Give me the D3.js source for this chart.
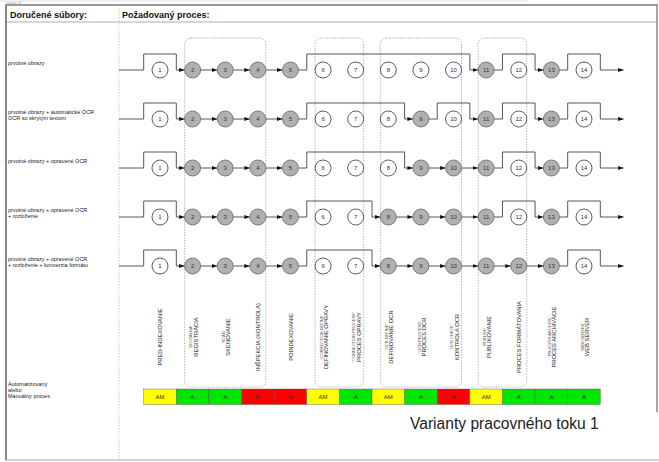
<!DOCTYPE html>
<html>
<head>
<meta charset="utf-8">
<script src="https://cdn.jsdelivr.net/npm/d3@7"></script>
<style>
  body { margin: 0; background: #fff; }
  svg { font-family: "Liberation Sans", Arial, sans-serif; display: block; }
</style>
</head>
<body>
<svg id="chart" width="659" height="462"></svg>
<script>
// process steps, left to right
var steps = [1, 2, 3, 4, 5, 6, 7, 8, 9, 10, 11, 12, 13, 14]
var stepNames = ['PRED-INDEXOVANIE', 'REGISTRÁCIA', 'SKENOVANIE', 'INŠPEKCIA (KONTROLA)', 'POINDEXOVANIE',
  'DEFINOVANIE OPRAVY', 'PROCES OPRAVY', 'DEFINOVANIE OCR', 'PROCES OCR', 'KONTROLA OCR',
  'PUBLIKOVANIE', 'PROCES FORMÁTOVANIA', 'PROCES ARCHIVÁCIE', 'WEB SERVER']
var stepNotes = ['', '"DIGITÁLNA"', '"SCAN"', '', '', '"CORRECTION DEFINE"', '"CORRECTION PROCESS"',
  '"OCR DEFINE"', '"OCR PROCESS"', '"OCR CHECK"', '"PUBLISH"', '', '"PROCESS ARCHIVE"', '"WEB SERVER"']
var stepModes = ['AM', 'A', 'A', 'M', 'M', 'AM', 'A', 'AM', 'A', 'M', 'AM', 'A', 'A', 'A']

// delivered file variants (rows) and the steps each one goes through
var rowLabels = [
  ['prvotné obrazy'],
  ['prvotné obrazy + automatické OCR', 'OCR so skrytým textom'],
  ['prvotné obrazy + opravené OCR'],
  ['prvotné obrazy + opravené OCR', '+ rozloženie'],
  ['prvotné obrazy + opravené OCR', '+ rozloženie + konverzia formátu']
]
var rowActive = [
  [2, 3, 4, 5, 11, 13],
  [2, 3, 4, 5, 9, 11, 13],
  [2, 3, 4, 5, 9, 10, 11, 13],
  [2, 3, 4, 5, 8, 9, 10, 11, 13],
  [2, 3, 4, 5, 8, 9, 10, 11, 12, 13]
]
// dashed groupings of steps (first, last)
var groups = [[2, 4], [6, 7], [8, 10], [11, 12]]

var modeColors = { AM: '#ffff00', A: '#00e600', M: '#ff0000' }

var svg = d3.select('#chart')
  , r = 8
  , lift = 16
  , xStart = 119

var x = d3.scaleLinear().domain([1, 14]).range([160, 584])
var y = d3.scalePoint().domain(d3.range(rowLabels.length)).range([70, 266])
var half = (x(2) - x(1)) / 2

svg.append('defs').append('marker')
  .attr('id', 'arr')
  .attr('markerUnits', 'userSpaceOnUse')
  .attr('markerWidth', 6).attr('markerHeight', 4)
  .attr('refX', 5.5).attr('refY', 2)
  .attr('orient', 'auto')
  .append('path').attr('d', 'M0,0 L5.5,2 L0,4 z').attr('fill', '#111')

// frame
var frame = svg.append('g').attr('fill', 'none')
frame.append('line').attr('x1', 0).attr('x2', 527).attr('y1', 1).attr('y2', 1).attr('stroke', '#ccc').attr('stroke-width', 0.6)
frame.append('line').attr('x1', 5).attr('x2', 658).attr('y1', 5).attr('y2', 5).attr('stroke', '#777').attr('stroke-width', 1.5)
frame.append('line').attr('x1', 6).attr('x2', 657).attr('y1', 22).attr('y2', 22).attr('stroke', '#999').attr('stroke-width', 0.8)
frame.append('line').attr('x1', 6).attr('x2', 6).attr('y1', 5).attr('y2', 460).attr('stroke', '#888').attr('stroke-width', 2)
frame.append('line').attr('x1', 657).attr('x2', 657).attr('y1', 5).attr('y2', 412).attr('stroke', '#888').attr('stroke-width', 1.5)
frame.append('line').attr('x1', 5).attr('x2', 659).attr('y1', 460).attr('y2', 460).attr('stroke', '#aaa').attr('stroke-width', 1)
frame.append('line').attr('x1', xStart).attr('x2', xStart).attr('y1', 5).attr('y2', 460)
  .attr('stroke', '#aaa').attr('stroke-width', 0.6).attr('stroke-dasharray', '1.5,1.5')

svg.append('text').attr('x', 6).attr('y', 3.5).attr('font-size', 3).attr('fill', '#999').text('varianty_wf')

svg.append('text').attr('x', 10).attr('y', 18).attr('font-size', 9).attr('font-weight', 'bold').attr('fill', '#111').text('Doručené súbory:')
svg.append('text').attr('x', 122).attr('y', 18).attr('font-size', 9).attr('font-weight', 'bold').attr('fill', '#111').text('Požadovaný proces:')

// dashed group boxes
svg.append('g').selectAll('rect').data(groups).enter().append('rect')
  .attr('x', function(g) { return x(g[0]) - r })
  .attr('width', function(g) { return x(g[1]) - x(g[0]) + 2 * r })
  .attr('y', 38).attr('height', 349)
  .attr('rx', 6).attr('ry', 6)
  .attr('fill', 'none').attr('stroke', '#999').attr('stroke-width', 0.7).attr('stroke-dasharray', '1.5,1.2')

// row labels
svg.append('g').selectAll('text').data(rowLabels).enter().append('text')
  .attr('font-size', 5.5).attr('fill', '#222')
  .each(function(lines, i) {
    d3.select(this).selectAll('tspan').data(lines).enter().append('tspan')
      .attr('x', 8)
      .attr('y', function(l, j) { return y(i) - 5 + j * 6.2 })
      .text(function(l) { return l })
  })

// flow lines: straight arrow to the next step, or a raised bridge over skipped steps
function flowPath(a, b, yy) {
  var x0 = a === 0 ? xStart : x(a) + r
    , x1 = b === 15 ? x(15) + 7 : x(b) - r
  if (b === a + 1) return 'M' + x0 + ',' + yy + 'H' + x1
  return 'M' + x0 + ',' + yy + 'H' + (x(a + 1) - half) + 'V' + (yy - lift) +
    'H' + (x(b) - half) + 'V' + yy + 'H' + x1
}

var flows = svg.append('g').attr('fill', 'none').attr('stroke', '#444').attr('stroke-width', 0.9)
rowActive.forEach(function(active, i) {
  var seq = [0].concat(active, [15])
  for (var k = 0; k < seq.length - 1; k++) {
    flows.append('path').attr('d', flowPath(seq[k], seq[k + 1], y(i))).attr('marker-end', 'url(#arr)')
  }
})

// nodes
rowActive.forEach(function(active, i) {
  var n = svg.append('g').selectAll('g').data(steps).enter().append('g')
    .attr('transform', function(s) { return 'translate(' + x(s) + ',' + y(i) + ')' })
  n.append('circle').attr('r', r)
    .attr('fill', function(s) { return active.indexOf(s) >= 0 ? '#b0b0b0' : '#fff' })
    .attr('stroke', function(s) { return active.indexOf(s) >= 0 ? '#666' : '#333' })
    .attr('stroke-width', 0.8)
  n.append('text').attr('text-anchor', 'middle').attr('dy', 2.1)
    .attr('font-size', 6).attr('fill', '#333')
    .text(function(s) { return s })
})

// rotated step names
var lab = svg.append('g').selectAll('g').data(steps).enter().append('g')
lab.append('text')
  .attr('transform', function(s, i) { return 'translate(' + (x(s) + (stepNotes[i] ? 5 : 2.2)) + ',337) rotate(-90)' })
  .attr('text-anchor', 'middle').attr('font-size', 5.8).attr('fill', '#222')
  .text(function(s, i) { return stepNames[i] })
lab.filter(function(s, i) { return stepNotes[i] }).append('text')
  .attr('transform', function(s) { return 'translate(' + (x(s) - 0.3) + ',337) rotate(-90)' })
  .attr('text-anchor', 'middle').attr('font-size', 4).attr('fill', '#555')
  .text(function(s) { return stepNotes[steps.indexOf(s)] })

// automated / manual bar
svg.append('text').attr('font-size', 5.5).attr('fill', '#222')
  .selectAll('tspan').data(['Automatizovaný', 'alebo', 'Manuálny proces']).enter().append('tspan')
  .attr('x', 8).attr('y', function(d, j) { return 386 + j * 6 })
  .text(function(d) { return d })

var cells = svg.append('g').selectAll('g').data(steps).enter().append('g')
cells.append('rect')
  .attr('x', function(s) { return x(s) - half }).attr('width', half * 2)
  .attr('y', 389).attr('height', 15.5)
  .attr('fill', function(s, i) { return modeColors[stepModes[i]] })
  .attr('stroke', '#555').attr('stroke-width', 0.4)
cells.append('text')
  .attr('x', function(s) { return x(s) }).attr('y', 399)
  .attr('text-anchor', 'middle').attr('font-size', 6).attr('fill', '#333')
  .text(function(s, i) { return stepModes[i] })

svg.append('text').attr('x', 410).attr('y', 429).attr('font-size', 15.6).attr('fill', '#222')
  .text('Varianty pracovného toku 1')
</script>
</body>
</html>
